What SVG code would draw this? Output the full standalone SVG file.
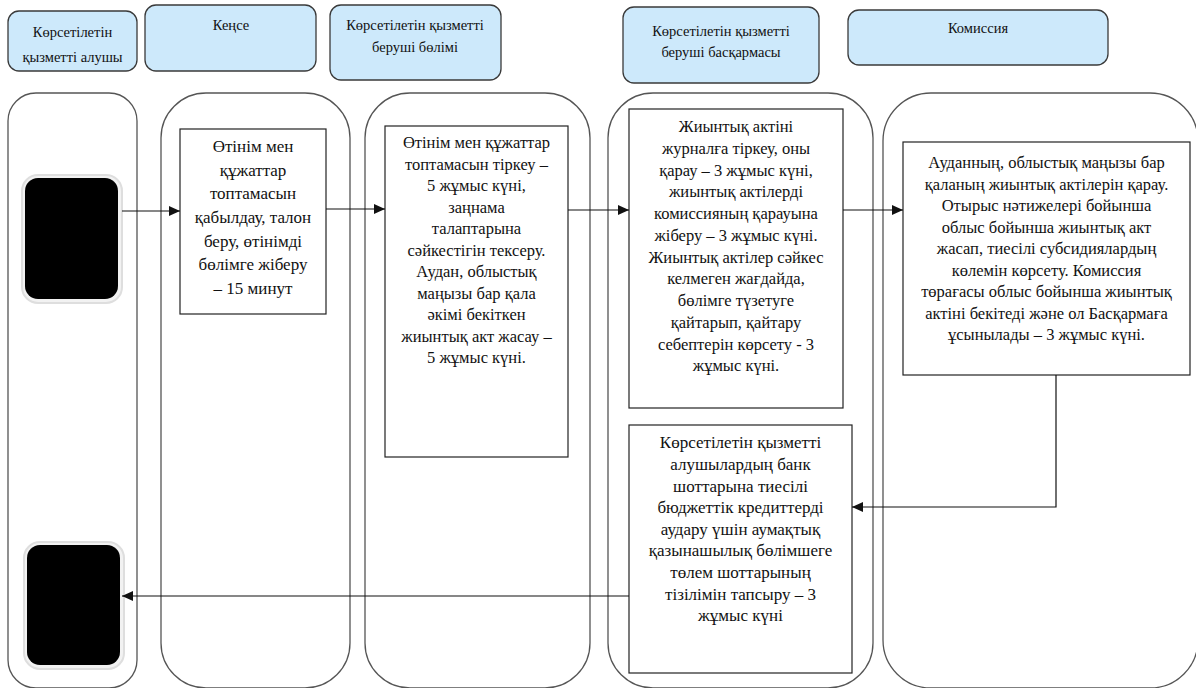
<svg xmlns="http://www.w3.org/2000/svg" width="1196" height="688" viewBox="0 0 1196 688">
<style>
.hdr{fill:#cde9fb;stroke:#3a3a3a;stroke-width:1.3}
.lane{fill:#ffffff;stroke:#555;stroke-width:1.3}
.box{fill:#ffffff;stroke:#222;stroke-width:1.2}
.ht{font-family:"Liberation Serif","Times New Roman",serif;font-size:14.5px;fill:#111;text-anchor:middle}
.bt{font-family:"Liberation Serif","Times New Roman",serif;font-size:16.5px;fill:#111;text-anchor:middle}
.big{font-size:17px}
.conn{stroke:#111;stroke-width:1.2;fill:none}
.glow{fill:#f2f2f2;stroke:#dedede;stroke-width:2}
</style>
<defs>
<marker id="arr" markerUnits="userSpaceOnUse" markerWidth="12" markerHeight="10" refX="11" refY="5" orient="auto">
<path d="M0,0 L11,5 L0,10 Z" fill="#111"/>
</marker>
</defs>
<rect width="1196" height="688" fill="#ffffff"/>

<g id="lanes">
<rect class="lane" x="8" y="93" width="129" height="595" rx="28"/>
<rect class="lane" x="161" y="93" width="189" height="595" rx="45"/>
<rect class="lane" x="365" y="93" width="225" height="595" rx="45"/>
<rect class="lane" x="608" y="93" width="265" height="595" rx="45"/>
<rect class="lane" x="883" y="93" width="315" height="595" rx="48"/>
</g>

<g id="header1"><rect class="hdr" x="8" y="11" width="129" height="60" rx="11"/>
<text class="ht" x="72.5" y="37">Көрсетілетін</text><text class="ht" x="72.5" y="62">қызметті алушы</text></g>
<g id="header2"><rect class="hdr" x="145" y="5" width="171" height="66" rx="11"/>
<text class="ht" x="231" y="30">Кеңсе</text></g>
<g id="header3"><rect class="hdr" x="330" y="5" width="171" height="75" rx="11"/>
<text class="ht" x="415" y="30">Көрсетілетін қызметті</text><text class="ht" x="415" y="52">беруші бөлімі</text></g>
<g id="header4"><rect class="hdr" x="623" y="7" width="196" height="76" rx="11"/>
<text class="ht" x="721" y="36">Көрсетілетін қызметті</text><text class="ht" x="721" y="57">беруші басқармасы</text></g>
<g id="header5"><rect class="hdr" x="848" y="10" width="260" height="55" rx="11"/>
<text class="ht" x="978" y="33">Комиссия</text></g>

<g id="start">
<rect class="glow" x="22" y="175" width="100" height="128" rx="16"/>
<rect x="25" y="178" width="93" height="121" rx="13" fill="#000"/>
</g>
<g id="end">
<rect class="glow" x="24" y="542" width="100" height="127" rx="16"/>
<rect x="27" y="545" width="93" height="120" rx="13" fill="#000"/>
</g>

<g id="step1">
<rect class="box" x="180" y="129" width="146" height="185"/>
<text class="bt big" x="253" y="152">Өтінім мен</text>
<text class="bt big" x="253" y="176">құжаттар</text>
<text class="bt big" x="253" y="199">топтамасын</text>
<text class="bt big" x="253" y="223">қабылдау, талон</text>
<text class="bt big" x="253" y="247">беру, өтінімді</text>
<text class="bt big" x="253" y="270">бөлімге жіберу</text>
<text class="bt big" x="253" y="294">– 15 минут</text>
</g>

<g id="step2">
<rect class="box" x="385" y="126" width="183" height="331"/>
<text class="bt" x="476.5" y="148">Өтінім мен құжаттар</text>
<text class="bt" x="476.5" y="170">топтамасын тіркеу –</text>
<text class="bt" x="476.5" y="191">5 жұмыс күні,</text>
<text class="bt" x="476.5" y="213">заңнама</text>
<text class="bt" x="476.5" y="234">талаптарына</text>
<text class="bt" x="476.5" y="256">сәйкестігін тексеру.</text>
<text class="bt" x="476.5" y="277">Аудан, облыстық</text>
<text class="bt" x="476.5" y="299">маңызы бар қала</text>
<text class="bt" x="476.5" y="320">әкімі бекіткен</text>
<text class="bt" x="476.5" y="342">жиынтық акт жасау –</text>
<text class="bt" x="476.5" y="363">5 жұмыс күні.</text>
</g>

<g id="step3">
<rect class="box" x="629" y="109" width="214" height="299"/>
<text class="bt" x="736" y="132">Жиынтық актіні</text>
<text class="bt" x="736" y="154">журналға тіркеу, оны</text>
<text class="bt" x="736" y="176">қарау – 3 жұмыс күні,</text>
<text class="bt" x="736" y="197">жиынтық актілерді</text>
<text class="bt" x="736" y="219">комиссияның қарауына</text>
<text class="bt" x="736" y="241">жіберу – 3 жұмыс күні.</text>
<text class="bt" x="736" y="263">Жиынтық актілер сәйкес</text>
<text class="bt" x="736" y="284">келмеген жағдайда,</text>
<text class="bt" x="736" y="306">бөлімге түзетуге</text>
<text class="bt" x="736" y="328">қайтарып, қайтару</text>
<text class="bt" x="736" y="350">себептерін көрсету - 3</text>
<text class="bt" x="736" y="371">жұмыс  күні.</text>
</g>

<g id="step4">
<rect class="box" x="903" y="142" width="287" height="233"/>
<text class="bt" x="1046.5" y="168">Ауданның, облыстық маңызы бар</text>
<text class="bt" x="1046.5" y="190">қаланың жиынтық актілерін қарау.</text>
<text class="bt" x="1046.5" y="211">Отырыс нәтижелері бойынша</text>
<text class="bt" x="1046.5" y="233">облыс бойынша жиынтық акт</text>
<text class="bt" x="1046.5" y="254">жасап, тиесілі субсидиялардың</text>
<text class="bt" x="1046.5" y="276">көлемін көрсету. Комиссия</text>
<text class="bt" x="1046.5" y="297">төрағасы облыс бойынша жиынтық</text>
<text class="bt" x="1046.5" y="319">актіні бекітеді және ол Басқармаға</text>
<text class="bt" x="1046.5" y="340">ұсынылады – 3 жұмыс күні.</text>
</g>

<g id="step5">
<rect class="box" x="629" y="425" width="223" height="248"/>
<text class="bt big" x="740.5" y="448">Көрсетілетін қызметті</text>
<text class="bt big" x="740.5" y="470">алушылардың банк</text>
<text class="bt big" x="740.5" y="492">шоттарына тиесілі</text>
<text class="bt big" x="740.5" y="513">бюджеттік кредиттерді</text>
<text class="bt big" x="740.5" y="535">аудару үшін аумақтық</text>
<text class="bt big" x="740.5" y="556">қазынашылық бөлімшеге</text>
<text class="bt big" x="740.5" y="578">төлем шоттарының</text>
<text class="bt big" x="740.5" y="600">тізілімін тапсыру – 3</text>
<text class="bt big" x="740.5" y="621">жұмыс күні</text>
</g>

<g id="connectors">
<line class="conn" x1="122" y1="211" x2="180" y2="211" marker-end="url(#arr)"/>
<line class="conn" x1="326" y1="209" x2="385" y2="209" marker-end="url(#arr)"/>
<line class="conn" x1="568" y1="210" x2="629" y2="210" marker-end="url(#arr)"/>
<line class="conn" x1="843" y1="210" x2="903" y2="210" marker-end="url(#arr)"/>
<polyline class="conn" points="1056,375 1056,507 852,507" marker-end="url(#arr)"/>
<line class="conn" x1="629" y1="596" x2="122" y2="596" marker-end="url(#arr)"/>
</g>
</svg>
